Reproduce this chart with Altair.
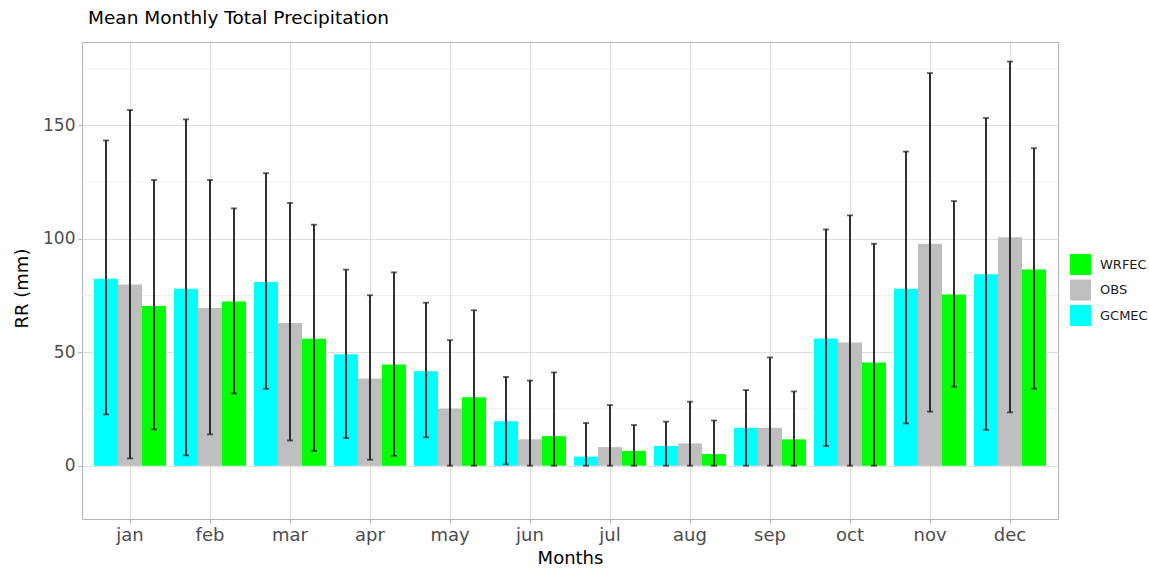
import altair as alt
import pandas as pd

# Months and data series
months = ["jan", "feb", "mar", "apr", "may", "jun", "jul", "aug", "sep", "oct", "nov", "dec"]
series_order = ["GCMEC", "OBS", "WRFEC"]
legend_order = ["WRFEC", "OBS", "GCMEC"]
palette = {"WRFEC": "#00FF00", "OBS": "#BEBEBE", "GCMEC": "#00FFFF"}

gcmec_mean = [82.4, 78.0, 80.9, 49.1, 41.6, 19.6, 4.0, 8.7, 16.7, 56.0, 78.0, 84.3]
obs_mean = [79.8, 69.5, 62.9, 38.4, 25.2, 11.6, 8.2, 9.8, 16.7, 54.3, 97.8, 100.7]
wrfec_mean = [70.4, 72.3, 55.9, 44.6, 30.1, 13.0, 6.5, 5.1, 11.6, 45.5, 75.4, 86.5]

gcmec_low = [22.6, 4.5, 33.9, 12.2, 12.5, 0.6, 0.0, 0.0, 0.0, 8.7, 18.6, 15.8]
obs_low = [3.2, 13.8, 11.1, 2.6, 0.0, 0.0, 0.0, 0.0, 0.0, 0.0, 23.8, 23.5]
wrfec_low = [16.0, 31.8, 6.5, 4.3, 0.0, 0.0, 0.0, 0.0, 0.0, 0.0, 34.8, 33.9]

gcmec_high = [143.3, 152.6, 128.9, 86.4, 71.8, 39.1, 18.8, 19.4, 33.3, 104.1, 138.4, 153.2]
obs_high = [156.7, 125.9, 115.8, 75.1, 55.3, 37.5, 26.7, 28.2, 47.7, 110.3, 173.0, 178.1]
wrfec_high = [125.9, 113.4, 106.2, 85.2, 68.5, 41.1, 17.9, 19.9, 32.7, 97.8, 116.6, 139.9]

y_breaks = [0, 50, 100, 150]
y_minor_breaks = [25, 75, 125, 175]

rows = []
for name, means, lows, highs in [
    ("GCMEC", gcmec_mean, gcmec_low, gcmec_high),
    ("OBS", obs_mean, obs_low, obs_high),
    ("WRFEC", wrfec_mean, wrfec_low, wrfec_high),
]:
    for m, v, lo, hi in zip(months, means, lows, highs):
        rows.append({"month": m, "source": name, "rr": v, "lo": lo, "hi": hi})
df = pd.DataFrame(rows)
minor_df = pd.DataFrame({"rr": y_minor_breaks})

FONT = "DejaVu Sans"
y_scale = alt.Scale(domain=[-23.5, 186.7], nice=False, zero=False)
y_axis = alt.Axis(values=y_breaks, title="RR (mm)")
x_scale = alt.Scale(paddingInner=0.1, paddingOuter=0.15)
x_enc = alt.X("month:N", sort=months, scale=x_scale, title="Months")
xoff = alt.XOffset("source:N", sort=series_order, scale=alt.Scale(paddingInner=0, paddingOuter=0))


def y_enc(field):
    return alt.Y(field, scale=y_scale, axis=y_axis, title="RR (mm)")


minor_grid = alt.Chart(minor_df).mark_rule(color="#EBEBEB", strokeWidth=0.8).encode(
    y=y_enc("rr:Q")
)

bars = alt.Chart(df).mark_bar(clip=True).encode(
    x=x_enc,
    xOffset=xoff,
    y=y_enc("rr:Q"),
    color=alt.Color(
        "source:N",
        scale=alt.Scale(domain=legend_order, range=[palette[k] for k in legend_order]),
        legend=alt.Legend(
            title=None,
            orient="none",
            legendX=988,
            legendY=212,
            symbolType="square",
            symbolSize=440,
            symbolStrokeWidth=0,
            symbolOpacity=1,
            labelFontSize=13,
            labelFont=FONT,
            labelColor="#1A1A1A",
            rowPadding=4.5,
            labelOffset=9,
        ),
    ),
)

err_lines = alt.Chart(df).mark_rule(color="#1A1A1A", strokeWidth=1.8).encode(
    x=x_enc,
    xOffset=xoff,
    y=y_enc("lo:Q"),
    y2="hi:Q",
)

caps_low = alt.Chart(df).mark_tick(color="#1A1A1A", orient="horizontal", size=6, thickness=1.8).encode(
    x=x_enc,
    xOffset=xoff,
    y=y_enc("lo:Q"),
)
caps_high = alt.Chart(df).mark_tick(color="#1A1A1A", orient="horizontal", size=6, thickness=1.8).encode(
    x=x_enc,
    xOffset=xoff,
    y=y_enc("hi:Q"),
)

chart = (
    alt.layer(minor_grid, bars, err_lines, caps_low, caps_high)
    .properties(
        width=976,
        height=477,
        autosize=alt.AutoSizeParams(type="none"),
        padding={"left": 82, "top": 42, "right": 91, "bottom": 49},
        title=alt.TitleParams(
            "Mean Monthly Total Precipitation",
            anchor="start",
            frame="group",
            font=FONT,
            fontSize=18.5,
            fontWeight="normal",
            color="#000000",
            baseline="alphabetic",
            offset=15,
            dx=6,
            dy=15,
        ),
    )
    .configure_view(stroke="#B3B3B3", strokeWidth=1)
    .configure_axisY(
        labelFont=FONT,
        labelFontSize=17,
        labelColor="#4D4D4D",
        tickColor="#B3B3B3",
        tickSize=4,
        labelPadding=3,
        domain=False,
        gridColor="#DEDEDE",
        gridWidth=1,
        titleFont=FONT,
        titleFontSize=18,
        titleFontWeight="normal",
        titleColor="#000000",
        titleX=-60,
        titleY=246,
        titleAngle=270,
        titleAlign="center",
        titleBaseline="middle",
    )
    .configure_axisX(
        labelFont=FONT,
        labelFontSize=18,
        labelColor="#4D4D4D",
        labelAngle=0,
        labelPadding=3,
        tickColor="#B3B3B3",
        tickSize=4,
        bandPosition=0.5,
        domain=False,
        grid=True,
        gridColor="#DEDEDE",
        gridWidth=1,
        titleFont=FONT,
        titleFontSize=18,
        titleFontWeight="normal",
        titleColor="#000000",
        titlePadding=5,
    )
)

chart.save("out.html", embed_options={"renderer": "svg", "actions": False})
